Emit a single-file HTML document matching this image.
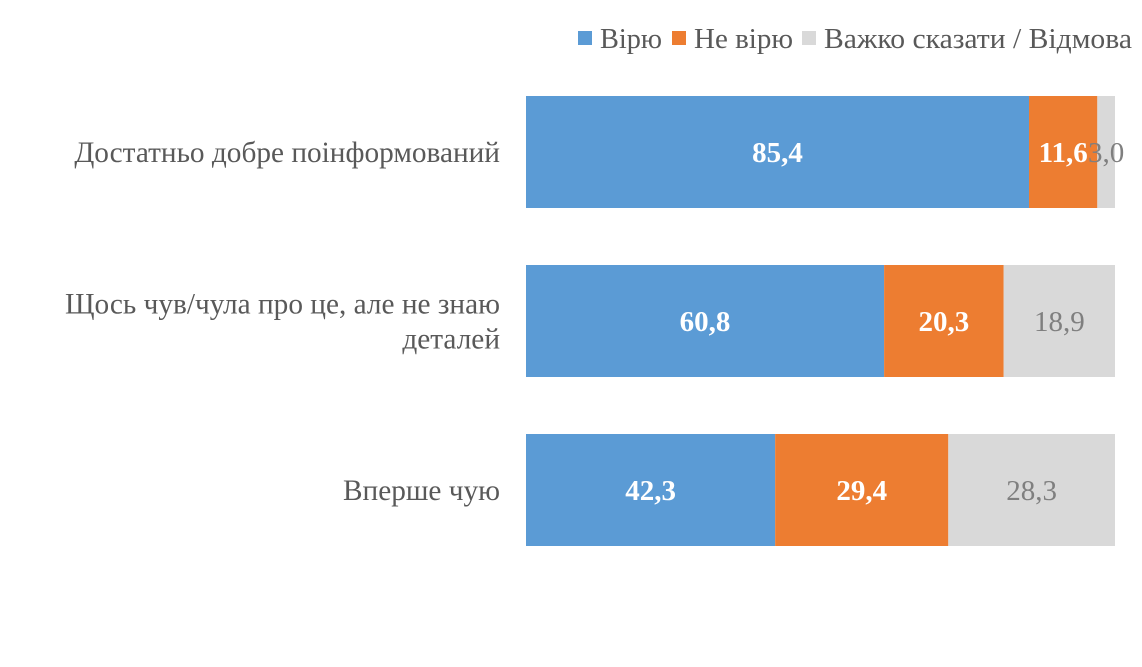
<!DOCTYPE html>
<html><head><meta charset="utf-8"><style>
body{margin:0;background:#fff;width:1142px;height:662px;overflow:hidden;font-family:"Liberation Serif",serif}
</style></head><body>
<svg width="1142" height="662" xmlns="http://www.w3.org/2000/svg">
<g id="legend"></g>
<g id="labels"></g>
<g id="bars"></g>
<g id="vals"></g>
</svg>
<script>
const categories=[["Достатньо добре поінформований"],["Щось чув/чула про це, але не знаю","деталей"],["Вперше чую"]];
const seriesNames=["Вірю","Не вірю","Важко сказати / Відмова"];
const believe=[85.4,60.8,42.3];
const notBelieve=[11.6,20.3,29.4];
const hard=[3.0,18.9,28.3];
const colors=["#5b9bd5","#ed7d31","#d9d9d9"];
const ns="http://www.w3.org/2000/svg";
const x0=526,plotW=589,top0=96,step=169,barH=112;
const xs=v=>v/100*plotW;
function mk(t,a,p){const e=document.createElementNS(ns,t);for(const k in a)e.setAttribute(k,a[k]);p.appendChild(e);return e;}
const L=document.getElementById('legend');
const legX=[578,672,802];
const legW=[62,99,308];
seriesNames.forEach((n,i)=>{
  const g=mk('g',{},L);
  
  
  mk('rect',{x:legX[i],y:31,width:14,height:14,fill:colors[i]},g);
  const t=mk('text',{x:legX[i]+22,y:48,'font-size':28,fill:'#595959',textLength:legW[i],lengthAdjust:'spacingAndGlyphs'},g);t.textContent=n;
});
const series=[believe,notBelieve,hard];
const B=document.getElementById('bars'),V=document.getElementById('vals'),C=document.getElementById('labels');
categories.forEach((c,i)=>{
  const y=top0+i*step;
  const t=mk('text',{x:500,'text-anchor':'end','font-size':29.3,fill:'#595959'},C);
  
  
  const cy=y+barH/2;
  const lh=35, startY=cy+10-(c.length-1)*lh/2;
  c.forEach((line,j)=>{const s=mk('tspan',{x:500,y:startY+j*lh},t);s.textContent=line;});
  let acc=0;
  series.forEach((s,k)=>{
    const r=mk('rect',{x:x0+xs(acc),y:y,width:xs(s[i]),height:barH,fill:colors[k]},B);
    
    
    acc+=s[i];
  });
  const order=[2,0,1];
  const pos=[];let a=0;series.forEach((s,k)=>{pos.push(a+s[i]/2);a+=s[i];});
  order.forEach(k=>{
    const tv=mk('text',{x:x0+xs(pos[k]),y:cy+10,'text-anchor':'middle','font-size':29,
      fill:k==2?'#7f7f7f':'#fff','font-weight':k==2?'normal':'bold'},V);
    
    
    tv.textContent=series[k][i].toFixed(1).replace('.',',');
  });
});
</script>
</body></html>
